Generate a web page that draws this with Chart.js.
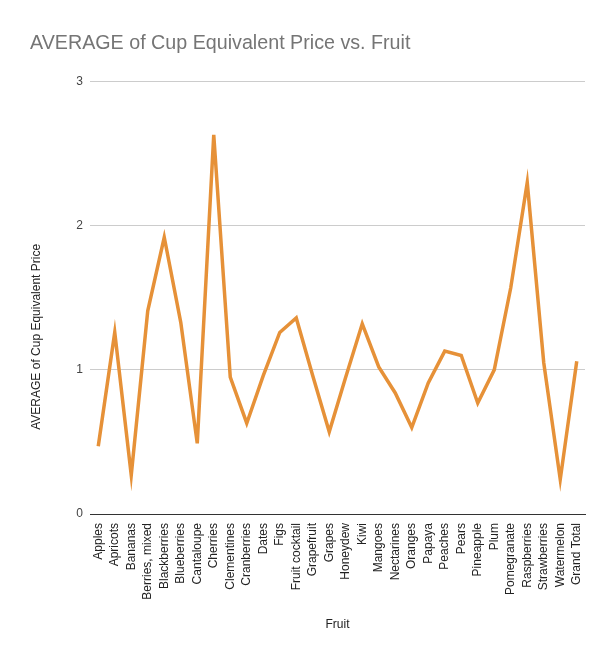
<!DOCTYPE html>
<html>
<head>
<meta charset="utf-8">
<script src="https://cdn.jsdelivr.net/npm/chart.js@4/dist/chart.umd.min.js"></script>
<style>
  html, body { margin: 0; padding: 0; background: #fff; }
  #wrap { width: 615px; height: 662px; }
</style>
</head>
<body>
<div id="wrap"><canvas id="chart"></canvas></div>
<script>
const fruits = [
    'Apples', 'Apricots', 'Bananas', 'Berries, mixed', 'Blackberries',
    'Blueberries', 'Cantaloupe', 'Cherries', 'Clementines', 'Cranberries',
    'Dates', 'Figs', 'Fruit cocktail', 'Grapefruit', 'Grapes',
    'Honeydew', 'Kiwi', 'Mangoes', 'Nectarines', 'Oranges',
    'Papaya', 'Peaches', 'Pears', 'Pineapple', 'Plum',
    'Pomegranate', 'Raspberries', 'Strawberries', 'Watermelon', 'Grand Total'
];

const avgPrice = [
    0.47, 1.26, 0.27, 1.41, 1.92,
    1.33, 0.49, 2.63, 0.95, 0.63,
    0.96, 1.26, 1.36, 0.96, 0.57,
    0.95, 1.32, 1.02, 0.84, 0.60,
    0.91, 1.13, 1.10, 0.77, 1.00,
    1.57, 2.30, 1.05, 0.24, 1.06
];

const yTicks = [0, 1, 2, 3];

const yTitle = 'AVERAGE of Cup Equivalent Price';

const font = 'Arial, "Liberation Sans", sans-serif';

// y axis title is centred over the plot plus the label band, like Sheets does
const yTitlePlugin = {
    id: 'yTitle',
    afterDraw(chart) {
        const ctx = chart.ctx;
        const xScale = chart.scales.x;
        const cy = (chart.chartArea.top + xScale.bottom - 40) / 2;
        ctx.save();
        ctx.translate(37, cy);
        ctx.rotate(-Math.PI / 2);
        ctx.font = '12px ' + font;
        ctx.fillStyle = '#222';
        ctx.textAlign = 'center';
        ctx.textBaseline = 'middle';
        ctx.fillText(yTitle, 0, 0);
        ctx.restore();
    }
};

new Chart(document.getElementById('chart'), {
    type: 'line',
    data: {
        labels: fruits,
        datasets: [{
            label: yTitle,
            data: avgPrice,
            borderColor: '#e69138',
            borderWidth: 3.5,
            pointRadius: 0,
            tension: 0,
            fill: false
        }]
    },
    options: {
        responsive: true,
        maintainAspectRatio: false,
        animation: false,
        layout: {
            padding: { left: 30, right: 30, top: 0, bottom: 30 }
        },
        plugins: {
            legend: { display: false },
            tooltip: { enabled: false },
            title: {
                display: true,
                text: 'AVERAGE of Cup Equivalent Price vs. Fruit',
                align: 'start',
                color: '#757575',
                font: { family: font, size: 19.7, weight: 'normal' },
                padding: { top: 32, bottom: 26 }
            }
        },
        scales: {
            x: {
                offset: true,
                grid: { display: false },
                border: { color: '#333', width: 1 },
                ticks: {
                    autoSkip: false,
                    maxRotation: 90,
                    minRotation: 90,
                    color: '#222',
                    padding: 1,
                    font: { family: font, size: 12 }
                },
                title: {
                    display: true,
                    text: 'Fruit',
                    color: '#222',
                    font: { family: font, size: 12 },
                    padding: { top: 10, bottom: 0 }
                },
                afterFit: scale => { scale.height = 118; }
            },
            y: {
                min: 0,
                max: 3,
                afterBuildTicks: scale => {
                    scale.ticks = yTicks.map(v => ({ value: v }));
                },
                grid: { color: '#cccccc', drawTicks: false },
                border: { display: false },
                ticks: {
                    color: '#444',
                    padding: 7,
                    font: { family: font, size: 12 }
                },
                afterFit: scale => { scale.width = 60; }
            }
        }
    },
    plugins: [yTitlePlugin]
});
</script>
</body>
</html>
